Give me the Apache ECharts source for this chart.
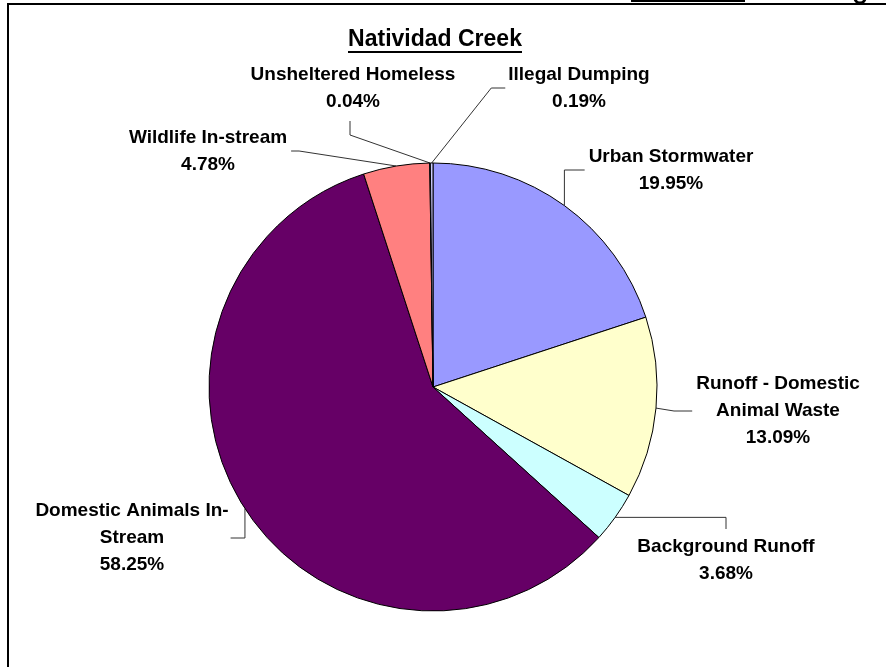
<!DOCTYPE html>
<html><head><meta charset="utf-8">
<script src="https://cdn.jsdelivr.net/npm/echarts@6/dist/echarts.min.js"></script>
<style>html,body{margin:0;padding:0;background:#fff}#c{width:886px;height:667px}</style>
</head><body><div id="c"></div>
<script>
const chartTitle = 'Natividad Creek';
const categories = ['Urban Stormwater', 'Runoff - Domestic Animal Waste', 'Background Runoff',
  'Domestic Animals In-Stream', 'Wildlife In-stream', 'Unsheltered Homeless', 'Illegal Dumping'];
const labelTexts = ['Urban Stormwater', 'Runoff - Domestic\nAnimal Waste', 'Background Runoff',
  'Domestic Animals In-\nStream', 'Wildlife In-stream', 'Unsheltered Homeless', 'Illegal Dumping'];
const percentValues = [19.95, 13.09, 3.68, 58.25, 4.78, 0.04, 0.19];
const sliceColors = ['#9999FF', '#FFFFCC', '#CCFFFF', '#660066', '#FF8080', '#0066CC', '#CCCCFF'];

// label block centres (layout only)
const labelAnchors = [[671, 170], [778, 411], [726, 560], [132, 538], [208, 151], [353, 88], [579, 88]];

function leader(i, S, r) {
  switch (i) {
    case 0: return [S, [S[0], r.cy], [r.l - 4, r.cy]];
    case 1: return [S, [S[0] + 18, r.cy], [r.l - 4, r.cy]];
    case 2: return [S, [r.cx, S[1]], [r.cx, r.t - 4]];
    case 3: return [S, [S[0], r.cy], [r.rt + 2, r.cy]];
    case 4: return [S, [r.rt + 12, r.cy], [r.rt + 4, r.cy]];
    case 5: return [S, [r.cx - 3, r.b + 20], [r.cx - 3, r.b + 6]];
    case 6: return [S, [r.l - 17, r.cy], [r.l - 3, r.cy]];
  }
}

const chart = echarts.init(document.getElementById('c'), null, {renderer: 'canvas'});
chart.setOption({
  animation: false,
  backgroundColor: '#fff',
  graphic: [
    {type: 'rect', shape: {x: 7, y: 3, width: 879, height: 2}, style: {fill: '#000'}, silent: true},
    {type: 'rect', shape: {x: 7, y: 3, width: 2, height: 664}, style: {fill: '#000'}, silent: true},
    {type: 'rect', shape: {x: 631, y: 0, width: 114, height: 2}, style: {fill: '#000'}, silent: true},
    {type: 'arc', shape: {cx: 860, cy: -2, r: 5, startAngle: 0, endAngle: Math.PI}, style: {stroke: '#000', lineWidth: 3, fill: null}, silent: true},
    {type: 'text', x: 435, y: 40, style: {text: chartTitle, font: 'bold 23px Arial', fill: '#000', align: 'center', verticalAlign: 'middle'}, silent: true},
    {type: 'rect', shape: {x: 348, y: 51, width: 174, height: 2}, style: {fill: '#000'}, silent: true}
  ],
  series: [{
    type: 'pie',
    center: [433, 387],
    radius: 224,
    startAngle: 90,
    clockwise: true,
    avoidLabelOverlap: false,
    minAngle: 0,
    emphasis: {disabled: true},
    itemStyle: {borderColor: '#000', borderWidth: 1},
    label: {
      show: true,
      position: 'outside',
      color: '#000',
      fontFamily: 'Arial',
      fontWeight: 'bold',
      fontSize: 19,
      lineHeight: 27,
      align: 'center',
      formatter: p => labelTexts[p.dataIndex] + '\n' + p.value.toFixed(2) + '%'
    },
    labelLine: {show: true, smooth: false, length: 10, length2: 10, lineStyle: {color: '#333', width: 1}},
    labelLayout: function (params) {
      const i = params.dataIndex;
      const a = labelAnchors[i];
      const w = params.labelRect.width, h = params.labelRect.height;
      const r = {cx: a[0], cy: a[1], l: a[0] - w / 2, rt: a[0] + w / 2, t: a[1] - h / 2, b: a[1] + h / 2};
      const S = params.labelLinePoints ? params.labelLinePoints[0] : [433, 163];
      return {
        x: a[0], y: a[1], align: 'center', verticalAlign: 'middle',
        labelLinePoints: leader(i, S, r)
      };
    },
    data: categories.map((c, i) => ({name: c, value: percentValues[i], itemStyle: {color: sliceColors[i]}}))
  }]
});
</script>
</body></html>
